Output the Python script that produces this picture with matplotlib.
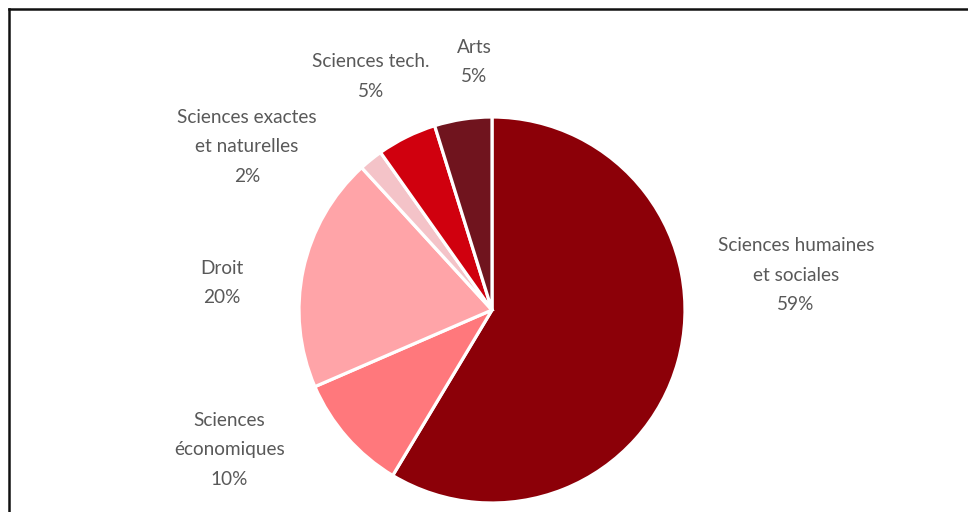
import matplotlib.pyplot as plt
from matplotlib.lines import Line2D

# parts des disciplines (sens horaire depuis midi)
labels = ['Sciences humaines\net sociales', 'Sciences\néconomiques', 'Droit',
          'Sciences exactes\net naturelles', 'Sciences tech.', 'Arts']
values = [58.6, 9.9, 19.7, 2.0, 5.0, 4.8]
colors = ['#8C0008', '#FF787C', '#FFA4A8', '#F4C3C8', '#D0000E', '#70141E']

W, H = 968, 512
cx, cy, r = 492, H - 310, 193

fig = plt.figure(figsize=(W / 100, H / 100), dpi=100)
ax = fig.add_axes([0, 0, 1, 1])

ax.pie(values, colors=colors, startangle=90, counterclock=False,
       center=(cx, cy), radius=r, frame=True,
       wedgeprops=dict(edgecolor='white', linewidth=2.3))
ax.set_xlim(0, W)
ax.set_ylim(0, H)
ax.set_aspect('equal')
ax.axis('off')

# positions des étiquettes (en rayons depuis le centre)
label_pos = [(1.575, 0.18), (-1.36, -0.725), (-1.40, 0.14),
             (-1.27, 0.845), (-0.627, 1.21), (-0.093, 1.285)]
for lab, v, (dx, dy) in zip(labels, values, label_pos):
    ax.text(cx + dx * r, cy + dy * r, f'{lab}\n{v:.0f}%', ha='center', va='center',
            fontsize=13.7, color='#595959', family=['Lato', 'DejaVu Sans'],
            linespacing=1.9)

# cadre
fig.add_artist(Line2D([9 / W, 1], [1 - 9 / H, 1 - 9 / H], color='#111111', lw=1.8,
                      transform=fig.transFigure))
fig.add_artist(Line2D([9 / W, 9 / W], [0, 1 - 9 / H], color='#111111', lw=1.8,
                      transform=fig.transFigure))

fig.savefig('out.png', dpi=100, facecolor='white')
